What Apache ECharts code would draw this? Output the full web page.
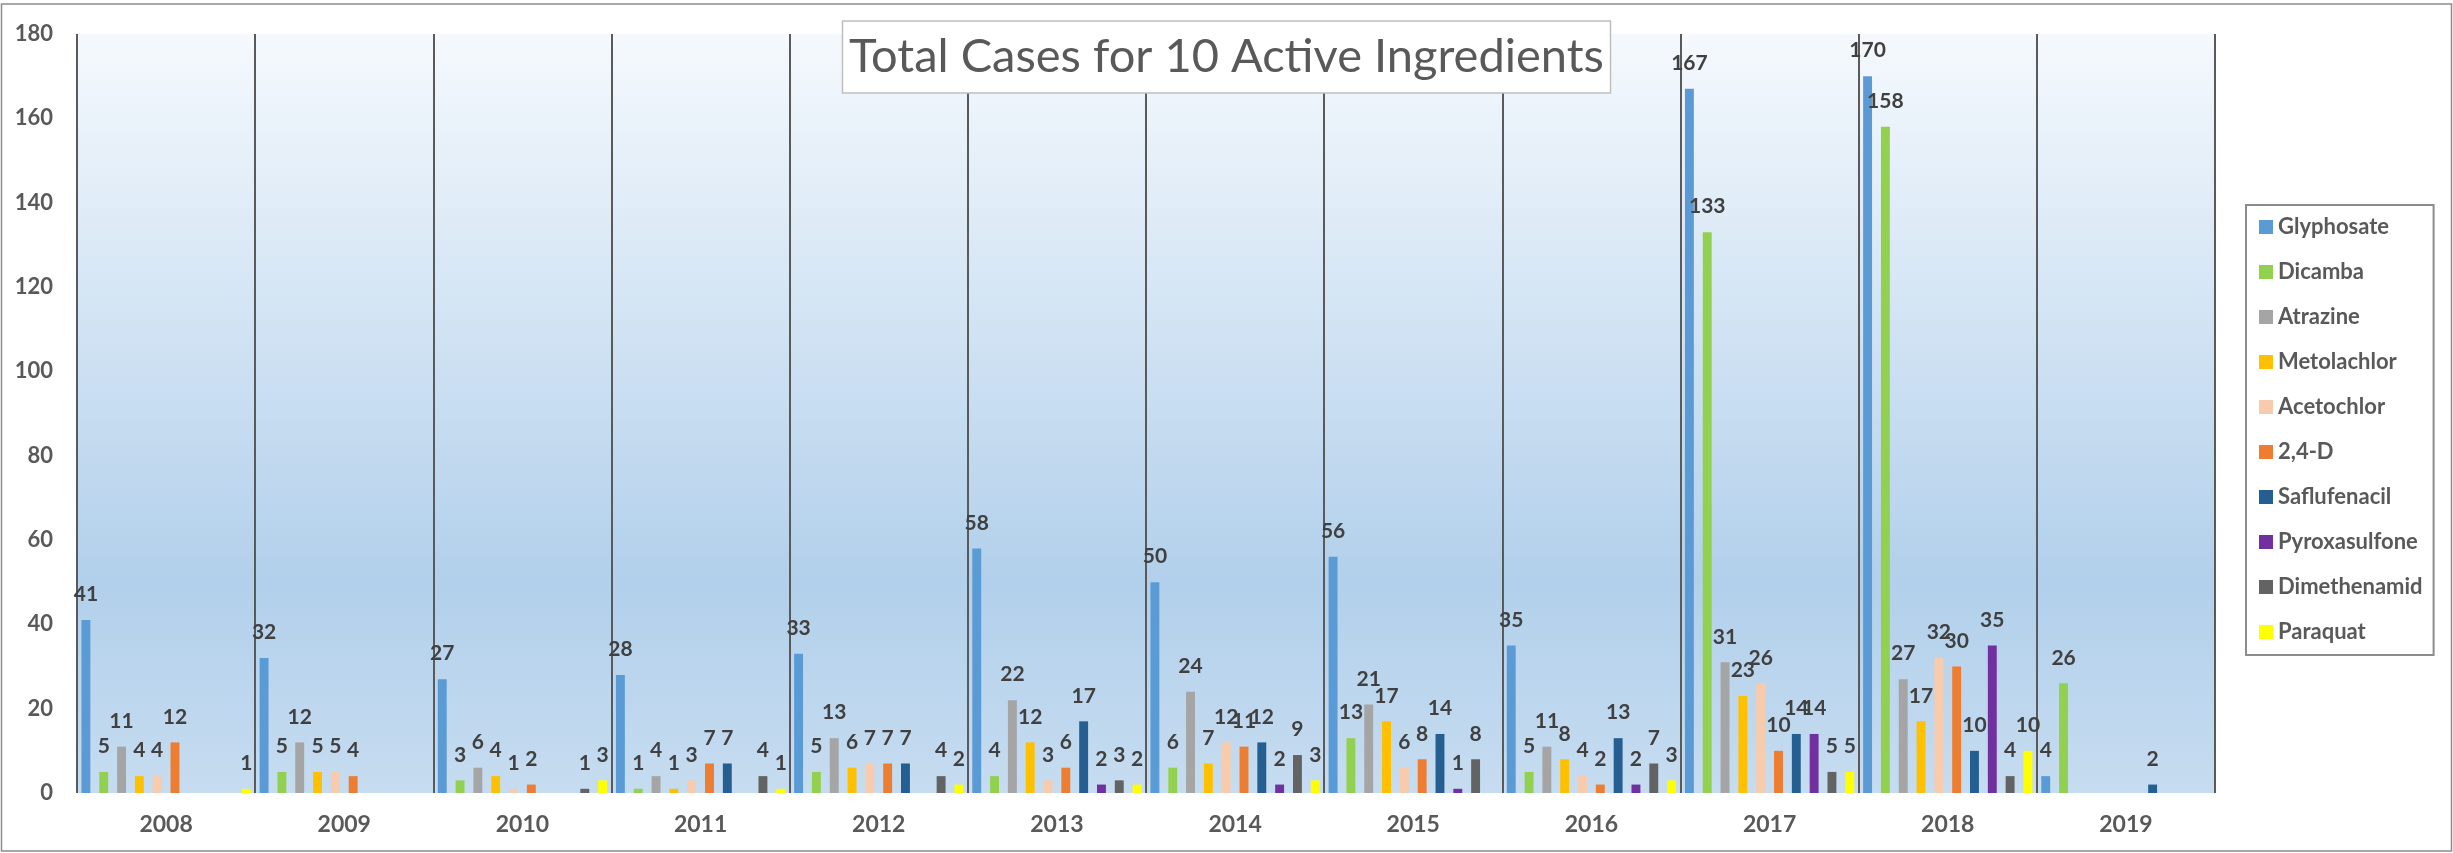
<!DOCTYPE html>
<html>
<head>
<meta charset="utf-8">
<title>Total Cases for 10 Active Ingredients</title>
<script src="https://cdn.jsdelivr.net/npm/echarts@6/dist/echarts.min.js"></script>
<style>
  html, body { margin: 0; padding: 0; background: #ffffff; }
  #chart { width: 2453px; height: 853px; }
</style>
</head>
<body>
<div id="chart"></div>
<script>
// Reported cases per year for each active ingredient (null = no cases reported)
const years = ['2008', '2009', '2010', '2011', '2012', '2013', '2014', '2015', '2016', '2017', '2018', '2019'];

const glyphosate    = [41, 32, 27, 28, 33, 58, 50, 56, 35, 167, 170, 4];
const dicamba       = [5, 5, 3, 1, 5, 4, 6, 13, 5, 133, 158, 26];
const atrazine      = [11, 12, 6, 4, 13, 22, 24, 21, 11, 31, 27, null];
const metolachlor   = [4, 5, 4, 1, 6, 12, 7, 17, 8, 23, 17, null];
const acetochlor    = [4, 5, 1, 3, 7, 3, 12, 6, 4, 26, 32, null];
const twoFourD      = [12, 4, 2, 7, 7, 6, 11, 8, 2, 10, 30, null];
const saflufenacil  = [null, null, null, 7, 7, 17, 12, 14, 13, 14, 10, 2];
const pyroxasulfone = [null, null, null, null, null, 2, 2, 1, 2, 14, 35, null];
const dimethenamid  = [null, null, 1, 4, 4, 3, 9, 8, 7, 5, 4, null];
const paraquat      = [1, null, 3, 1, 2, 2, 3, null, 3, 5, 10, null];

const yTicks = { min: 0, max: 180, interval: 20 };

const seriesDefs = [
  { name: 'Glyphosate',    data: glyphosate,    color: '#5b9bd5' },
  { name: 'Dicamba',       data: dicamba,       color: '#92d050' },
  { name: 'Atrazine',      data: atrazine,      color: '#a5a5a5' },
  { name: 'Metolachlor',   data: metolachlor,   color: '#ffc000' },
  { name: 'Acetochlor',    data: acetochlor,    color: '#f8cbad' },
  { name: '2,4-D',         data: twoFourD,      color: '#ed7d31' },
  { name: 'Saflufenacil',  data: saflufenacil,  color: '#255e91' },
  { name: 'Pyroxasulfone', data: pyroxasulfone, color: '#7030a0' },
  { name: 'Dimethenamid',  data: dimethenamid,  color: '#636363' },
  { name: 'Paraquat',      data: paraquat,      color: '#ffff00' }
];

const FONT = 'Lato, "Open Sans", "Noto Sans", sans-serif';

const chart = echarts.init(document.getElementById('chart'), null, { renderer: 'canvas' });

const option = {
  backgroundColor: '#ffffff',
  animation: false,
  textStyle: { fontFamily: FONT },
  title: {
    text: 'Total Cases for 10 Active Ingredients',
    left: 'center',
    top: 21,
    padding: [8, 7],
    backgroundColor: '#ffffff',
    borderColor: '#bfbfbf',
    borderWidth: 1.5,
    z: 10,
    textStyle: {
      fontFamily: FONT,
      fontSize: 47,
      fontWeight: 'normal',
      lineHeight: 56,
      color: '#595959'
    }
  },
  legend: {
    orient: 'vertical',
    left: 2246,
    top: 205,
    padding: [11, 11, 12, 13],
    itemGap: 23,
    itemWidth: 14,
    itemHeight: 14,
    icon: 'rect',
    borderColor: '#8c8c8c',
    borderWidth: 2,
    backgroundColor: '#ffffff',
    textStyle: {
      fontFamily: FONT,
      fontSize: 22,
      lineHeight: 22,
      fontWeight: 'bold',
      color: '#595959'
    },
    data: seriesDefs.map(s => s.name)
  },
  grid: {
    left: 77,
    right: 238,
    top: 34,
    bottom: 60,
    show: true,
    borderWidth: 0,
    backgroundColor: new echarts.graphic.LinearGradient(0, 0, 0, 1, [
      { offset: 0, color: '#f5f9fd' },
      { offset: 0.72, color: '#b2d0eb' },
      { offset: 1, color: '#c6dcf0' }
    ])
  },
  xAxis: {
    type: 'category',
    data: years,
    boundaryGap: true,
    axisLine: { show: false },
    axisTick: { show: false },
    axisLabel: {
      margin: 20,
      fontFamily: FONT,
      fontSize: 23,
      fontWeight: 'bold',
      color: '#595959'
    },
    splitLine: {
      show: true,
      interval: 0,
      lineStyle: { color: '#5a5a5a', width: 2 }
    }
  },
  yAxis: {
    type: 'value',
    min: yTicks.min,
    max: yTicks.max,
    interval: yTicks.interval,
    axisLine: { show: false },
    axisTick: { show: false },
    splitLine: { show: false },
    axisLabel: {
      margin: 24,
      fontFamily: FONT,
      fontSize: 22,
      fontWeight: 'bold',
      color: '#595959'
    }
  },
  series: seriesDefs.map(s => ({
    name: s.name,
    type: 'bar',
    data: s.data,
    barGap: '100%',
    barCategoryGap: '5%',
    itemStyle: { color: s.color },
    label: {
      show: true,
      position: 'top',
      distance: 15,
      fontFamily: FONT,
      fontSize: 21,
      fontWeight: 'bold',
      color: '#404040'
    }
  })),
  graphic: [
    {
      type: 'rect',
      silent: true,
      z: -1,
      shape: { x: 1.5, y: 4, width: 2450, height: 847 },
      style: { fill: null, stroke: '#8c8c8c', lineWidth: 1.5 }
    }
  ]
};

chart.setOption(option);
</script>
</body>
</html>
